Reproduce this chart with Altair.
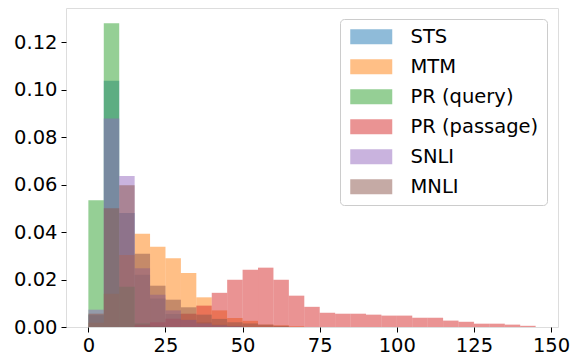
import altair as alt
import pandas as pd

# Histogram bins of width 5 covering 0..145
bin_width = 5
bin_starts = list(range(0, 145, bin_width))

series_names = ["STS", "MTM", "PR (query)", "PR (passage)", "SNLI", "MNLI"]
series_colors = ["#1f77b4", "#ff7f0e", "#2ca02c", "#d62728", "#9467bd", "#8c564b"]

# Normalised frequency (density) per bin
sts = [0.005, 0.1037, 0.048, 0.022, 0.012, 0.0055, 0.003, 0.002, 0.001, 0.0005]
mtm = [0.0018, 0.014, 0.0303, 0.0393, 0.0338, 0.029, 0.0227, 0.0125, 0.007, 0.0038,
       0.0026, 0.001, 0.0007, 0.0003]
pr_query = [0.0534, 0.128, 0.017, 0.0015, 0.0005]
pr_passage = [0.0, 0.0, 0.0, 0.001, 0.002, 0.0035, 0.0056, 0.009, 0.0144, 0.0199,
              0.0241, 0.025, 0.0199, 0.0132, 0.0085, 0.006, 0.0056, 0.0056, 0.0052, 0.0048,
              0.0048, 0.0039, 0.0039, 0.0027, 0.0022, 0.0014, 0.0014, 0.001, 0.0005]
snli = [0.0073, 0.0878, 0.0636, 0.0248, 0.0136, 0.007, 0.003, 0.0015, 0.0007, 0.0003]
mnli = [0.0056, 0.050, 0.0597, 0.0309, 0.0174, 0.0115, 0.0083, 0.0052, 0.0034, 0.002,
        0.0015, 0.001, 0.0005]

all_series = [sts, mtm, pr_query, pr_passage, snli, mnli]

rows = []
for order, (name, values) in enumerate(zip(series_names, all_series)):
    for start, v in zip(bin_starts, values):
        if v > 0:
            rows.append({"series": name, "order": order, "x0": start,
                         "x1": start + bin_width, "density": v})
df = pd.DataFrame(rows)

axis_style = dict(
    labelFont="DejaVu Sans", labelFontSize=19.5, labelColor="black",
    tickColor="black", tickSize=5, tickWidth=1, domain=False, grid=False,
    labelPadding=4, title=None,
)

# Wide legend patch: 2.8 : 1 rectangle, scaled by sqrt(symbolSize)/2
rect_path = "M-2.8,-1L2.8,-1L2.8,1L-2.8,1Z"

chart = alt.Chart(df).mark_bar(fillOpacity=0.5, strokeWidth=0).encode(
    x=alt.X("x0:Q", scale=alt.Scale(domain=[-7.25, 152.25], nice=False, zero=False),
            axis=alt.Axis(values=[0, 25, 50, 75, 100, 125, 150], format="d", **axis_style)),
    x2="x1:Q",
    y=alt.Y("density:Q", scale=alt.Scale(domain=[0, 0.1344], nice=False),
            axis=alt.Axis(values=[0, 0.02, 0.04, 0.06, 0.08, 0.10, 0.12], format=".2f",
                          **axis_style)),
    y2=alt.datum(0),
    color=alt.Color(
        "series:N",
        scale=alt.Scale(domain=series_names, range=series_colors),
        legend=alt.Legend(
            title=None, orient="top-right", offset=11,
            symbolType=rect_path, symbolSize=225, symbolOpacity=0.5,
            symbolStrokeWidth=0, symbolOffset=13.5,
            labelFont="DejaVu Sans", labelFontSize=19.5,
            labelColor="black", labelOffset=29.5, labelLimit=400,
            padding=8, rowPadding=9, fillColor="white", strokeColor="#cccccc",
            cornerRadius=4,
        ),
    ),
    order=alt.Order("order:Q"),
).properties(
    width=492, height=319,
    autosize=alt.AutoSizeParams(type="none"),
    padding={"left": 66, "top": 8, "right": 15, "bottom": 33},
).configure_view(
    stroke="black", strokeWidth=1,
).configure(background="white")

chart.save("out.html", embed_options={"renderer": "svg", "actions": False})
